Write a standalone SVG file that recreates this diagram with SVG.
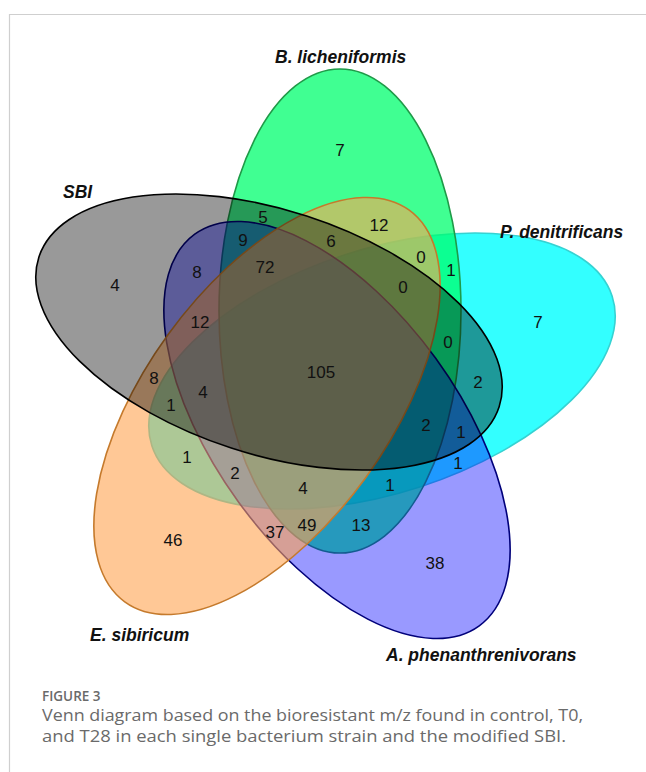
<svg xmlns="http://www.w3.org/2000/svg" width="646" height="772" viewBox="0 0 646 772">
<style>
.set{stroke-width:1.6}
.lbl{font-family:"Liberation Sans",Arial,sans-serif;font-weight:bold;font-style:italic;font-size:17.5px;fill:#111}
.num{font-family:"Liberation Sans",Arial,sans-serif;font-size:17px;fill:#111;text-anchor:middle}
.cap{font-family:"Open Sans","Noto Sans",sans-serif;fill:#6a6a6a}
</style>
<rect width="646" height="772" fill="#fff"/>
<g id="frame" stroke="#cfcfcf" stroke-width="1.2" fill="none">
<line x1="9" y1="14.5" x2="646" y2="14.5"/>
<line x1="9.5" y1="14" x2="9.5" y2="772"/>
</g>
<g id="sets">
<g id="set-pden">
<ellipse class="set" cx="382" cy="371" rx="242" ry="122" transform="rotate(-18 382 371)" fill="#00FFFF" fill-opacity="0.8" stroke="#36d2d2"/>
</g>
<g id="set-blich">
<ellipse class="set" cx="340" cy="311" rx="121" ry="242" fill="#00FF6E" fill-opacity="0.75" stroke="#1f9a48"/>
</g>
<g id="set-aphen">
<ellipse class="set" cx="337" cy="430" rx="242" ry="122" transform="rotate(54 337 430)" fill="#0000FF" fill-opacity="0.4" stroke="#00007a" stroke-width="2"/>
</g>
<g id="set-esib">
<ellipse class="set" cx="267" cy="406" rx="242" ry="122" transform="rotate(-54 267 406)" fill="#FFA350" fill-opacity="0.6" stroke="#c57a2c"/>
</g>
<g id="set-sbi">
<ellipse class="set" cx="269" cy="332" rx="242" ry="122" transform="rotate(18 269 332)" fill="#000000" fill-opacity="0.4" stroke="#000" stroke-width="2.2"/>
</g>
</g>
<g id="labels">
<text class="lbl" x="275" y="63">B. licheniformis</text>
<text class="lbl" x="63" y="198">SBI</text>
<text class="lbl" x="500" y="238">P. denitrificans</text>
<text class="lbl" x="90" y="641">E. sibiricum</text>
<text class="lbl" x="386" y="661">A. phenanthrenivorans</text>
</g>
<g id="connectors"></g>
<g id="counts">
<text class="num" x="340" y="156">7</text>
<text class="num" x="263" y="223">5</text>
<text class="num" x="379" y="231">12</text>
<text class="num" x="243" y="246">9</text>
<text class="num" x="331" y="247">6</text>
<text class="num" x="421" y="263">0</text>
<text class="num" x="451" y="276">1</text>
<text class="num" x="197" y="278">8</text>
<text class="num" x="265" y="273">72</text>
<text class="num" x="115" y="291">4</text>
<text class="num" x="403" y="293">0</text>
<text class="num" x="538" y="328">7</text>
<text class="num" x="200" y="328">12</text>
<text class="num" x="448" y="348">0</text>
<text class="num" x="321" y="378">105</text>
<text class="num" x="154" y="384">8</text>
<text class="num" x="478" y="388">2</text>
<text class="num" x="203" y="398">4</text>
<text class="num" x="171" y="411">1</text>
<text class="num" x="426" y="431">2</text>
<text class="num" x="461" y="438">1</text>
<text class="num" x="187" y="463">1</text>
<text class="num" x="458" y="469">1</text>
<text class="num" x="235" y="479">2</text>
<text class="num" x="390" y="491">1</text>
<text class="num" x="303" y="494">4</text>
<text class="num" x="307" y="531">49</text>
<text class="num" x="275" y="538">37</text>
<text class="num" x="361" y="531">13</text>
<text class="num" x="173" y="546">46</text>
<text class="num" x="435" y="569">38</text>
</g>
<g id="caption">
<text class="cap" x="42" y="701" font-size="13.5" font-weight="600">FIGURE 3</text>
<text class="cap" x="42" y="721" font-size="16" textLength="541" lengthAdjust="spacingAndGlyphs">Venn diagram based on the bioresistant m/z found in control, T0,</text>
<text class="cap" x="42" y="742" font-size="16" textLength="524" lengthAdjust="spacingAndGlyphs">and T28 in each single bacterium strain and the modified SBI.</text>
</g>
</svg>
